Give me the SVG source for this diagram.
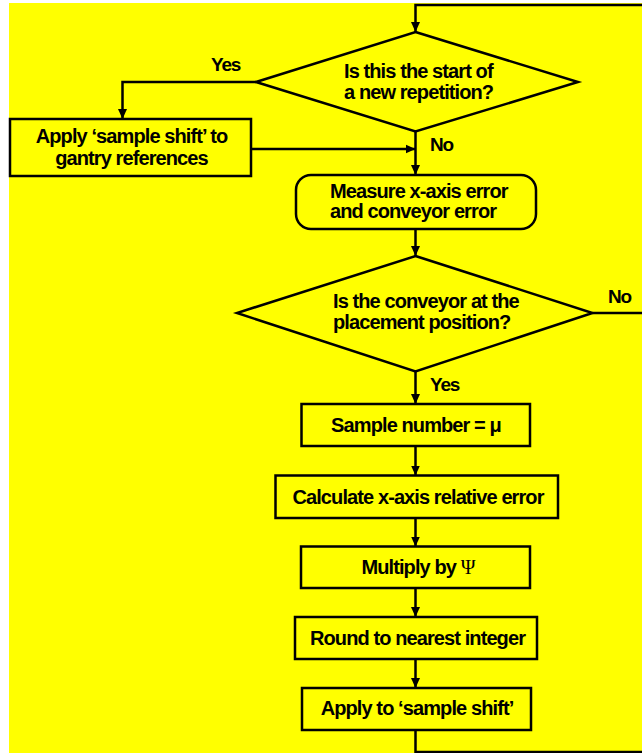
<svg xmlns="http://www.w3.org/2000/svg" width="642" height="753" viewBox="0 0 642 753">
<defs>
<style>
.bg{fill:#ffffff}
.panel{fill:#ffff00}
.shape{fill:#ffff00;stroke:#000000;stroke-width:2.5}
.line{fill:none;stroke:#000000;stroke-width:2.5}
.t{font-family:"Liberation Sans",Arial,sans-serif;font-weight:bold;font-size:20px;letter-spacing:-0.9px;fill:#000000}
.lbl{font-family:"Liberation Sans",Arial,sans-serif;font-weight:bold;font-size:19px;letter-spacing:-1.2px;fill:#000000}
.c{text-anchor:middle}
.sym{font-family:"Liberation Serif","Times New Roman",serif;font-weight:normal}
</style>
<marker id="arr" markerUnits="userSpaceOnUse" markerWidth="10" markerHeight="10" viewBox="0 0 10 10" refX="10" refY="5" orient="auto">
<path d="M0,0.5 L10,5 L0,9.5 z" fill="#000000"/>
</marker>
</defs>
<rect class="bg" x="0" y="0" width="642" height="753"/>
<rect class="panel" x="9" y="3" width="633" height="750"/>

<g id="connectors">
<path class="line" d="M642,5 H415.5 V32" marker-end="url(#arr)"/>
<path class="line" d="M256,82 H122.5 V119" marker-end="url(#arr)"/>
<path class="line" d="M251,149 H415.5" marker-end="url(#arr)"/>
<path class="line" d="M415.5,131.5 V175" marker-end="url(#arr)"/>
<path class="line" d="M415.5,229 V256" marker-end="url(#arr)"/>
<path class="line" d="M592.5,313 H642"/>
<path class="line" d="M415.5,371.5 V404" marker-end="url(#arr)"/>
<path class="line" d="M415.5,446 V475.5" marker-end="url(#arr)"/>
<path class="line" d="M415.5,518 V546.5" marker-end="url(#arr)"/>
<path class="line" d="M415.5,588 V617" marker-end="url(#arr)"/>
<path class="line" d="M415.5,659 V688" marker-end="url(#arr)"/>
<path class="line" d="M415.5,730 V752 H642"/>
<text class="lbl" x="211" y="71">Yes</text>
<text class="lbl" x="430" y="151">No</text>
<text class="lbl" x="608" y="303">No</text>
<text class="lbl" x="430" y="391">Yes</text>
</g>

<g id="decision-repetition">
<polygon class="shape" points="415.5,32 578,82 415.5,131.5 256,82"/>
<text class="t" x="344" y="78">Is this the start of</text>
<text class="t" x="344" y="99">a new repetition?</text>
</g>

<g id="apply-gantry">
<rect class="shape" x="10" y="119" width="241" height="57"/>
<text class="t c" x="131.5" y="143">Apply ‘sample shift’ to</text>
<text class="t c" x="131.5" y="165">gantry references</text>
</g>

<g id="measure">
<rect class="shape" x="296" y="175" width="240" height="54" rx="15" ry="15"/>
<text class="t" x="330" y="198">Measure x-axis error</text>
<text class="t" x="330" y="218">and conveyor error</text>
</g>

<g id="decision-placement">
<polygon class="shape" points="415.5,256 592.5,313 415.5,371.5 237,313"/>
<text class="t" x="333" y="308">Is the conveyor at the</text>
<text class="t" x="333" y="329">placement position?</text>
</g>

<g id="sample-number">
<rect class="shape" x="301.5" y="404" width="228.5" height="42"/>
<text class="t c" x="416" y="432">Sample number = μ</text>
</g>

<g id="calculate">
<rect class="shape" x="275.5" y="475.5" width="282.5" height="42.5"/>
<text class="t c" x="418" y="504">Calculate x-axis relative error</text>
</g>

<g id="multiply">
<rect class="shape" x="301" y="546.5" width="229" height="41.5"/>
<text class="t c" x="418" y="574">Multiply by <tspan class="sym">Ψ</tspan></text>
</g>

<g id="round">
<rect class="shape" x="295" y="617" width="242" height="42"/>
<text class="t c" x="417.5" y="645">Round to nearest integer</text>
</g>

<g id="apply-shift">
<rect class="shape" x="302" y="688" width="229" height="42"/>
<text class="t c" x="417" y="715">Apply to ‘sample shift’</text>
</g>
</svg>
